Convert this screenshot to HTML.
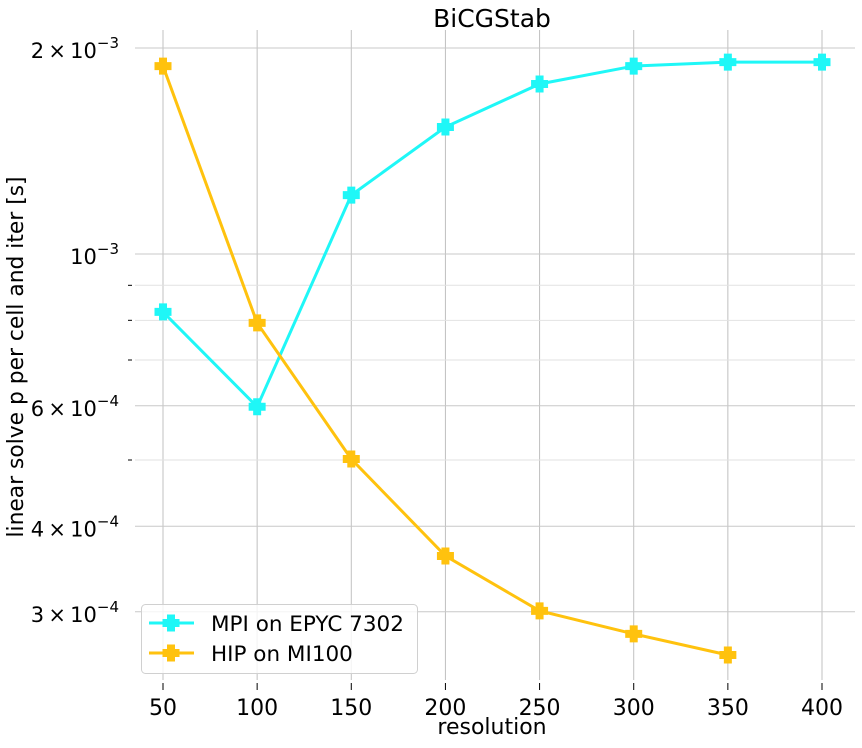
<!DOCTYPE html>
<html><head><meta charset="utf-8"><style>
body{margin:0;background:#fff;width:862px;height:743px;overflow:hidden}
text{font-family:"DejaVu Sans","Liberation Sans",sans-serif;fill:#000}
</style></head><body>
<svg id="chart" width="862" height="743" xmlns="http://www.w3.org/2000/svg"></svg>
<script>
const categories=[50,100,150,200,250,300,350,400];
const mpiValues=[0.823e-3,0.598e-3,1.219e-3,1.533e-3,1.772e-3,1.882e-3,1.907e-3,1.907e-3];
const hipValues=[1.882e-3,0.793e-3,0.5017e-3,0.362e-3,0.301e-3,0.2785e-3,0.2594e-3];
const majorTicks=[2e-3,1e-3,6e-4,4e-4,3e-4];
const majorLabels=[["2","−3"],["","−3"],["6","−4"],["4","−4"],["3","−4"]];
const minorTicks=[5e-4,7e-4,8e-4,9e-4];
const NS="http://www.w3.org/2000/svg";
const svg=document.getElementById('chart');
const x=v=>163+(v-50)*(659/350);
const y=v=>254-Math.log10(v/1e-3)*684.3;
function mk(t,a,p){const e=document.createElementNS(NS,t);for(const k in a)e.setAttribute(k,a[k]);(p||svg).appendChild(e);return e;}
const grid=mk('g',{});


categories.forEach(c=>{mk('line',{x1:x(c),x2:x(c),y1:30,y2:680,stroke:'#c0c0c0','stroke-width':1},grid);mk('line',{x1:x(c),x2:x(c),y1:683,y2:690,stroke:'#000','stroke-width':1},grid);});
majorTicks.forEach(t=>mk('line',{x1:135,x2:855,y1:y(t),y2:y(t),stroke:'#c8c8c8','stroke-width':1},grid));
minorTicks.forEach(t=>{mk('line',{x1:135,x2:855,y1:y(t),y2:y(t),stroke:'#e2e2e2','stroke-width':1},grid);mk('line',{x1:128,x2:132,y1:y(t),y2:y(t),stroke:'#000','stroke-width':1},grid);});
categories.forEach(c=>{const t=mk('text',{x:x(c),y:715,'font-size':22,'text-anchor':'middle'});t.textContent=c;

});
majorTicks.forEach((v,i)=>{const t=mk('text',{x:119,y:y(v)+10,'font-size':21,'text-anchor':'end'});


const [m,e]=majorLabels[i];
t.innerHTML=(m?m+'\u2009×\u2009':'')+'10<tspan dy="-10" font-size="15">'+e+'</tspan>';});
let tt=mk('text',{x:492,y:27,'font-size':25,'text-anchor':'middle'});tt.textContent='BiCGStab';


let xt=mk('text',{x:492,y:734,'font-size':22,'text-anchor':'middle'});xt.textContent='resolution';


let yt=mk('text',{x:23,y:357,'font-size':21.8,'text-anchor':'middle',transform:'rotate(-90 23 357)'});yt.textContent='linear solve p per cell and iter [s]';


function plus(cx,cy,col,p){const s=8,w=3.5;return mk('path',{d:`M${cx-w},${cy-s}h${2*w}v${s-w}h${s-w}v${2*w}h${-(s-w)}v${s-w}h${-2*w}v${-(s-w)}h${-(s-w)}v${-2*w}h${s-w}z`,fill:col,stroke:col,'stroke-width':1},p);}
function series(vals,col,name){const g=mk('g',{});


mk('polyline',{points:vals.map((v,i)=>x(categories[i])+','+y(v)).join(' '),fill:'none',stroke:col,'stroke-width':3},g);
vals.forEach((v,i)=>{const m=plus(x(categories[i]),y(v),col,g);

});}
series(mpiValues,'#1ff7f7','mpi-series');
series(hipValues,'#ffc20e','hip-series');
const lg=mk('g',{});


mk('rect',{x:141.5,y:604.5,width:276,height:69,rx:4,fill:'rgba(255,255,255,0.8)',stroke:'#d0d0d0'},lg);
[['MPI on EPYC 7302','#1ff7f7',623],['HIP on MI100','#ffc20e',653]].forEach(([l,c,yy])=>{
mk('line',{x1:149,x2:194,y1:yy,y2:yy,stroke:c,'stroke-width':3},lg);plus(171,yy,c,lg);
const t=mk('text',{x:211,y:yy+8,'font-size':21.5},lg);t.textContent=l;

});
</script>
</body></html>
